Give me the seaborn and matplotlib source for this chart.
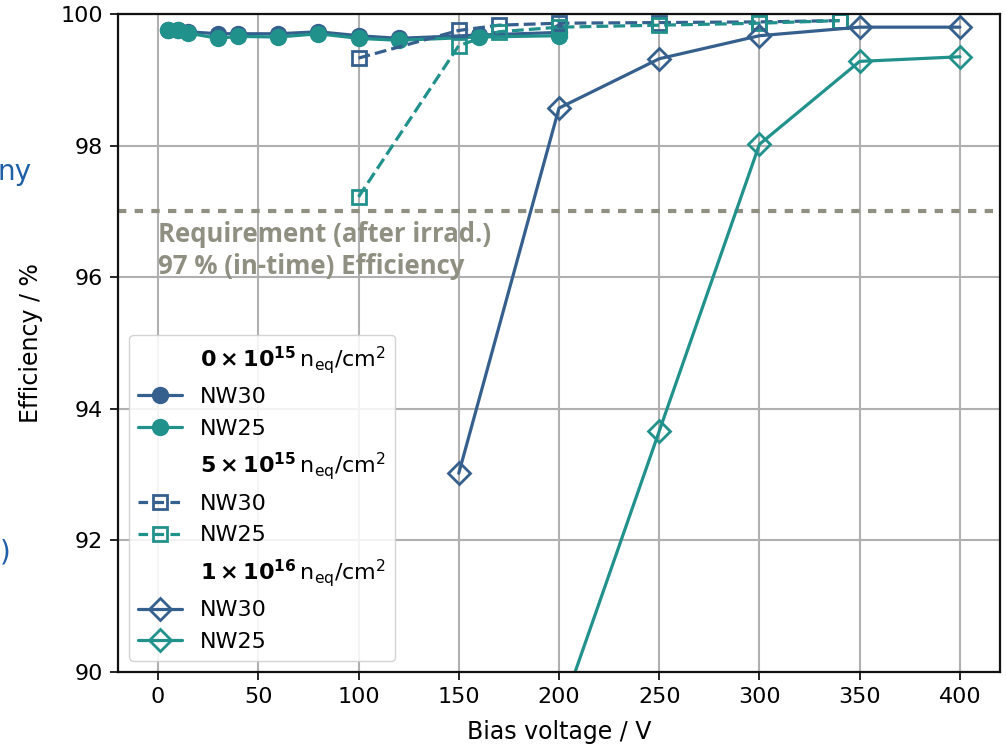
import matplotlib
matplotlib.use("Agg")
import matplotlib.pyplot as plt
from matplotlib.lines import Line2D
import seaborn as sns
import numpy as np

# ---- data ----
v_0 = [5, 10, 15, 30, 40, 60, 80, 100, 120, 160, 200]
eff_0_nw30 = [99.76, 99.75, 99.73, 99.70, 99.70, 99.70, 99.73, 99.67, 99.63, 99.68, 99.72]
eff_0_nw25 = [99.75, 99.76, 99.71, 99.63, 99.66, 99.65, 99.70, 99.63, 99.60, 99.65, 99.67]

v_5e15 = [100, 150, 170, 200, 250, 300, 340]
eff_5e15_nw30 = [99.33, 99.75, 99.83, 99.86, 99.87, 99.88, 99.90]
eff_5e15_nw25 = [97.22, 99.52, 99.73, 99.80, 99.83, 99.86, 99.90]

v_1e16 = [150, 200, 250, 300, 350, 400]
eff_1e16_nw30 = [93.02, 98.57, 99.32, 99.67, 99.80, 99.80]
v_1e16_nw25 = [200, 250, 300, 350, 400]
eff_1e16_nw25 = [89.3, 93.66, 98.02, 99.28, 99.35]

requirement = 97.0
x_ticks = [0, 50, 100, 150, 200, 250, 300, 350, 400]
y_ticks = [90, 92, 94, 96, 98, 100]

C30 = "#355f8d"
C25 = "#21918c"

sns.set_theme(style="whitegrid")
plt.rcParams['font.family'] = ['DejaVu Sans']
plt.rcParams['text.color'] = 'black'
plt.rcParams['axes.labelcolor'] = 'black'
plt.rcParams['xtick.color'] = 'black'
plt.rcParams['ytick.color'] = 'black'

fig = plt.figure(figsize=(10.06, 7.46), dpi=100)
W, H = 1006, 746
ax = fig.add_axes([118 / W, 1 - 672 / H, (1000 - 118) / W, (672 - 14) / H])

lw = 2.3
sns.lineplot(x=v_0, y=eff_0_nw30, ax=ax, color=C30, marker='o', markersize=12.5,
             markeredgewidth=0, linewidth=lw, legend=False)
sns.lineplot(x=v_0, y=eff_0_nw25, ax=ax, color=C25, marker='o', markersize=12.5,
             markeredgewidth=0, linewidth=lw, legend=False)
sns.lineplot(x=v_5e15, y=eff_5e15_nw30, ax=ax, color=C30, marker='s', markersize=10,
             markerfacecolor='none', markeredgecolor=C30, markeredgewidth=2,
             linewidth=lw, linestyle='--', dashes=(3, 2), legend=False)
sns.lineplot(x=v_5e15, y=eff_5e15_nw25, ax=ax, color=C25, marker='s', markersize=10,
             markerfacecolor='none', markeredgecolor=C25, markeredgewidth=2,
             linewidth=lw, linestyle='--', dashes=(3, 2), legend=False)
sns.lineplot(x=v_1e16, y=eff_1e16_nw30, ax=ax, color=C30, marker='D', markersize=11,
             markerfacecolor='none', markeredgecolor=C30, markeredgewidth=2,
             linewidth=lw, legend=False)
sns.lineplot(x=v_1e16_nw25, y=eff_1e16_nw25, ax=ax, color=C25, marker='D', markersize=11,
             markerfacecolor='none', markeredgecolor=C25, markeredgewidth=2,
             linewidth=lw, legend=False)

REQ_C = "#8f8f82"
ax.axhline(requirement, color=REQ_C, linestyle=(0, (2, 2)), linewidth=3, zorder=1)
ax.text(0, 96.86, "Requirement (after irrad.)\n97 % (in-time) Efficiency",
        color=REQ_C, fontsize=18.5, fontweight='bold', family=['Open Sans', 'DejaVu Sans'],
        va='top', ha='left', linespacing=1.25)

ax.set_xlim(-20, 420)
ax.set_ylim(90, 100)
ax.set_xticks(x_ticks)
ax.set_yticks(y_ticks)
ax.tick_params(axis='both', labelsize=16, length=6, width=1.2, color='black',
               labelcolor='black', direction='out', bottom=True, left=True, pad=5)
for s in ax.spines.values():
    s.set_color('#111111')
    s.set_linewidth(1.6)
ax.grid(True, color='#b0b0b0', linewidth=1.5)
ax.set_xlabel("Bias voltage / V", fontsize=17, labelpad=9, color='black')
ax.set_ylabel("Efficiency / %", fontsize=17, labelpad=12, color='black')

blank = Line2D([], [], linestyle='none', marker=None)
handles = [
    blank,
    Line2D([], [], color=C30, marker='o', markersize=12.5, lw=lw, markeredgewidth=0),
    Line2D([], [], color=C25, marker='o', markersize=12.5, lw=lw, markeredgewidth=0),
    blank,
    Line2D([], [], color=C30, marker='s', markersize=10, lw=lw, ls='--', dashes=(3, 2),
           mfc='none', mec=C30, mew=2),
    Line2D([], [], color=C25, marker='s', markersize=10, lw=lw, ls='--', dashes=(3, 2),
           mfc='none', mec=C25, mew=2),
    blank,
    Line2D([], [], color=C30, marker='D', markersize=11, lw=lw, mfc='none', mec=C30, mew=2),
    Line2D([], [], color=C25, marker='D', markersize=11, lw=lw, mfc='none', mec=C25, mew=2),
]
labels = [
    r"$\mathbf{0 \times 10^{15}}\,\mathrm{n_{eq}/cm^{2}}$", "NW30", "NW25",
    r"$\mathbf{5 \times 10^{15}}\,\mathrm{n_{eq}/cm^{2}}$", "NW30", "NW25",
    r"$\mathbf{1 \times 10^{16}}\,\mathrm{n_{eq}/cm^{2}}$", "NW30", "NW25",
]
leg = ax.legend(handles, labels, loc='lower left', fontsize=16, frameon=True,
                framealpha=0.85, edgecolor='#cccccc', handlelength=2.0,
                labelspacing=0.52, borderaxespad=0.5)
for t in leg.get_texts():
    t.set_color('black')

fig.text(32 / W, 1 - 172 / H, "ny", color="#1f5fa8", fontsize=20, ha='right', va='center')
fig.text(0, 1 - 553 / H, ")", color="#1f5fa8", fontsize=20, ha='left', va='center')

fig.savefig("out.png", dpi=100)
